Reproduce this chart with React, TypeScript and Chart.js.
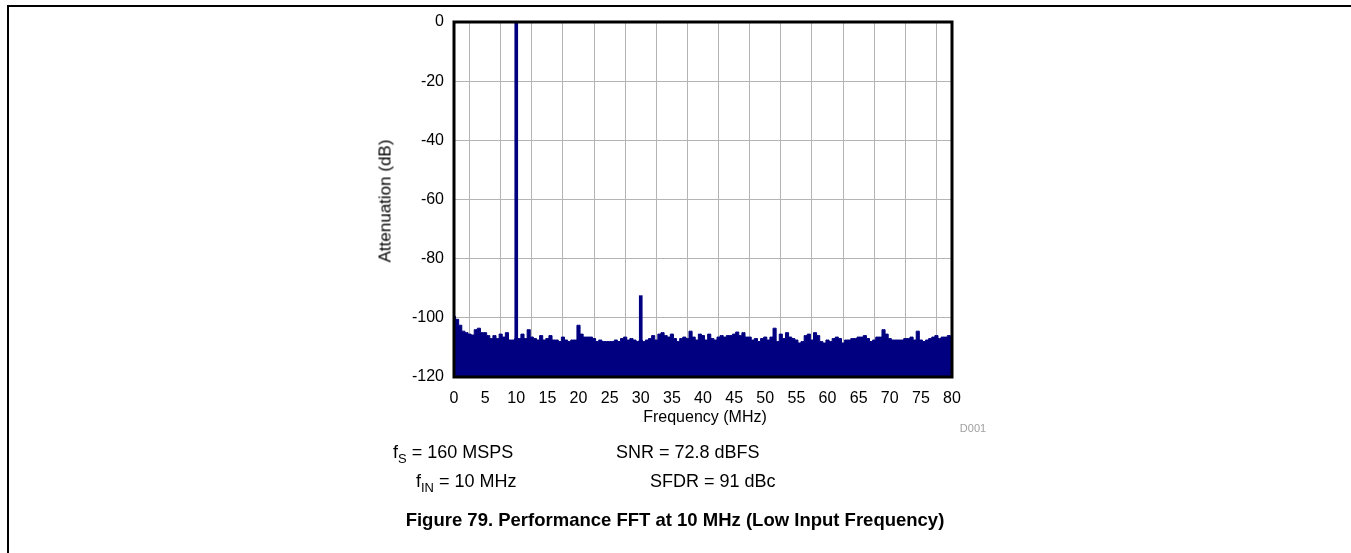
import React, { useEffect, useRef } from "react";
import { Chart, registerables } from "chart.js";

Chart.register(...registerables);

const FONT = 'Arial, "Liberation Sans", Helvetica, sans-serif';
const NAVY = "#000080";

// Noise floor, frequency (MHz) and level (dB)
const noiseFreqMHz = [
  0, 0.5, 1, 1.5, 2, 2.5, 3, 3.5, 4, 4.5,
  5, 5.5, 6, 6.5, 7, 7.5, 8, 8.5, 9, 9.5,
  10, 10.5, 11, 11.5, 12, 12.5, 13, 13.5, 14, 14.5,
  15, 15.5, 16, 16.5, 17, 17.5, 18, 18.5, 19, 19.5,
  20, 20.5, 21, 21.5, 22, 22.5, 23, 23.5, 24, 24.5,
  25, 25.5, 26, 26.5, 27, 27.5, 28, 28.5, 29, 29.5,
  30, 30.5, 31, 31.5, 32, 32.5, 33, 33.5, 34, 34.5,
  35, 35.5, 36, 36.5, 37, 37.5, 38, 38.5, 39, 39.5,
  40, 40.5, 41, 41.5, 42, 42.5, 43, 43.5, 44, 44.5,
  45, 45.5, 46, 46.5, 47, 47.5, 48, 48.5, 49, 49.5,
  50, 50.5, 51, 51.5, 52, 52.5, 53, 53.5, 54, 54.5,
  55, 55.5, 56, 56.5, 57, 57.5, 58, 58.5, 59, 59.5,
  60, 60.5, 61, 61.5, 62, 62.5, 63, 63.5, 64, 64.5,
  65, 65.5, 66, 66.5, 67, 67.5, 68, 68.5, 69, 69.5,
  70, 70.5, 71, 71.5, 72, 72.5, 73, 73.5, 74, 74.5,
  75, 75.5, 76, 76.5, 77, 77.5, 78, 78.5, 79, 79.5,
  80,
];
const noiseDb = [
  -99.5, -100.5, -102.5, -104.5, -105, -105.5, -105.8, -104, -103.5, -105,
  -105, -106, -107, -106, -107, -105.5, -106.5, -105, -107.5, -107.5,
  -107, -107, -105.5, -107, -104, -106.5, -107, -107.5, -106, -107.5,
  -107, -106, -107.5, -107.5, -108, -106.5, -107.5, -108, -107.5, -107.5,
  -102.5, -105.5, -106.5, -106.5, -106.5, -107, -108, -107.5, -108, -108,
  -108, -108, -107.5, -108, -107, -106.5, -107.5, -107, -107.5, -108,
  -107.5, -108, -107.5, -107, -106, -107.5, -105.5, -105, -106, -106.5,
  -105.5, -107, -108, -107, -106.5, -107, -104.5, -106.5, -107.5, -105.5,
  -106, -107.5, -105.5, -107, -107.5, -106.5, -106, -106.5, -106, -106,
  -105.5, -104.8, -106, -105, -106.5, -106.5, -107.5, -107, -108, -107,
  -106.5, -107.5, -106.5, -103.5, -108, -105.5, -107, -105, -106.5, -107,
  -107.5, -108.5, -108, -106, -105.5, -107.5, -105, -106, -108, -108.5,
  -107.5, -108, -107, -106.5, -107, -108.5, -107.5, -107.5, -107, -107,
  -106.5, -106.5, -106, -107, -108, -107.5, -106.5, -106.5, -104, -105.5,
  -107, -107.5, -107.5, -107.5, -107.5, -107, -107, -106.5, -107.5, -104.5,
  -107.5, -108, -107.5, -107, -106.5, -106, -107, -106.5, -106.5, -106,
  -106.5,
];

// Fundamental and harmonic tones
const toneFreqMHz = [10, 30];
const toneDb = [0, -92.5];

// Axis ticks
const xMin = 0;
const xMax = 80;
const xStep = 5;
const yMin = -120;
const yMax = 0;
const yStep = 20;

const frameBorder = {
  id: "frameBorder",
  afterDatasetsDraw(chart: any) {
    const { ctx, chartArea } = chart;
    ctx.save();
    ctx.strokeStyle = "#000";
    ctx.lineWidth = 3;
    ctx.strokeRect(
      chartArea.left,
      chartArea.top,
      chartArea.right - chartArea.left,
      chartArea.bottom - chartArea.top
    );
    ctx.restore();
  },
};

export default function App() {
  const ref = useRef<HTMLCanvasElement>(null);

  useEffect(() => {
    const noise = noiseFreqMHz.map((f, i) => ({ x: f, y: noiseDb[i] }));
    const tones = toneFreqMHz.map((f, i) => ({ x: f, y: toneDb[i] }));
    const chart = new Chart(ref.current as HTMLCanvasElement, {
      type: "line",
      data: {
        datasets: [
          {
            type: "bar",
            data: tones,
            backgroundColor: NAVY,
            borderWidth: 0,
            barThickness: 3,
            base: yMin,
            order: 1,
          } as any,
          {
            type: "line",
            data: noise,
            borderColor: NAVY,
            backgroundColor: NAVY,
            borderWidth: 1,
            pointRadius: 0,
            tension: 0,
            stepped: "middle",
            fill: "start",
            order: 2,
          },
        ],
      },
      plugins: [frameBorder],
      options: {
        animation: false,
        responsive: false,
        maintainAspectRatio: false,
        devicePixelRatio: 1,
        layout: { padding: { left: 0, top: 22, right: 399, bottom: 0 } },
        plugins: {
          legend: { display: false },
          tooltip: { enabled: false },
          filler: { propagate: false },
        },
        scales: {
          x: {
            type: "linear",
            min: xMin,
            max: xMax,
            offset: false,
            grid: { color: "#b4b4b4", lineWidth: 1, drawTicks: false },
            border: { display: false },
            ticks: {
              stepSize: xStep,
              color: "#000",
              padding: 12,
              maxRotation: 0,
              autoSkip: false,
              font: { family: FONT, size: 16 },
            },
            afterFit(scale: any) {
              scale.height = 176;
            },
          },
          y: {
            min: yMin,
            max: yMax,
            grid: { color: "#b4b4b4", lineWidth: 1, drawTicks: false },
            border: { display: false },
            ticks: {
              stepSize: yStep,
              color: "#000",
              padding: 10,
              font: { family: FONT, size: 16 },
            },
            afterFit(scale: any) {
              scale.width = 454;
            },
          },
        },
      },
    });
    return () => chart.destroy();
  }, []);

  const txt: React.CSSProperties = {
    position: "absolute",
    fontFamily: FONT,
    color: "#000",
    whiteSpace: "nowrap",
    lineHeight: 1,
  };
  const sub: React.CSSProperties = {
    fontSize: "0.72em",
    position: "relative",
    top: "0.35em",
  };

  return (
    <div
      style={{
        position: "fixed",
        left: 0,
        top: 0,
        width: 1351,
        height: 553,
        background: "#fff",
        overflow: "hidden",
      }}
    >
      <div
        style={{
          position: "absolute",
          left: 7,
          top: 5,
          width: 1400,
          height: 600,
          borderTop: "2px solid #000",
          borderLeft: "2px solid #000",
        }}
      />
      <canvas
        ref={ref}
        width={1351}
        height={553}
        style={{ position: "absolute", left: 0, top: 0, width: 1351, height: 553 }}
      />
      <div
        style={{
          ...txt,
          fontSize: 17,
          left: 385,
          top: 201,
          transform: "translate(-50%, -50%) rotate(-90deg)",
        }}
      >
        Attenuation (dB)
      </div>
      <div style={{ ...txt, fontSize: 16, left: 705, top: 417, transform: "translate(-50%, -50%)" }}>
        Frequency (MHz)
      </div>
      <div style={{ ...txt, fontSize: 11, color: "#a0a0a0", left: 973, top: 428, transform: "translate(-50%, -50%)" }}>
        D001
      </div>
      <div style={{ ...txt, fontSize: 18, left: 393, top: 452, transform: "translateY(-50%)" }}>
        f<span style={sub}>S</span> = 160 MSPS
      </div>
      <div style={{ ...txt, fontSize: 18, left: 616, top: 452, transform: "translateY(-50%)" }}>
        SNR = 72.8 dBFS
      </div>
      <div style={{ ...txt, fontSize: 18, left: 416, top: 481, transform: "translateY(-50%)" }}>
        f<span style={sub}>IN</span> = 10 MHz
      </div>
      <div style={{ ...txt, fontSize: 18, left: 650, top: 481, transform: "translateY(-50%)" }}>
        SFDR = 91 dBc
      </div>
      <div
        style={{
          ...txt,
          fontSize: 18.5,
          fontWeight: "bold",
          left: 675,
          top: 520,
          transform: "translate(-50%, -50%)",
        }}
      >
        Figure 79. Performance FFT at 10 MHz (Low Input Frequency)
      </div>
    </div>
  );
}
